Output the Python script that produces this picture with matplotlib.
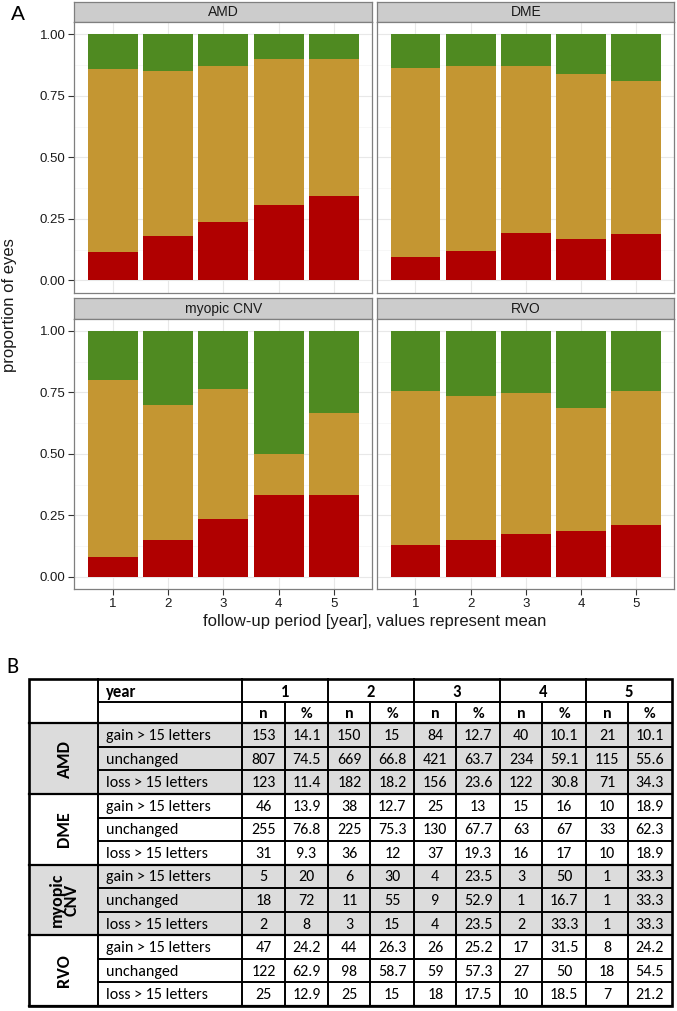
import matplotlib
matplotlib.use("Agg")
import matplotlib.pyplot as plt
import numpy as np
from matplotlib import font_manager
from matplotlib.patches import Rectangle

# ---------------- data ----------------
diseases = ["AMD", "DME", "myopic CNV", "RVO"]
disease_labels = ["AMD", "DME", "myopic\nCNV", "RVO"]
years = [1, 2, 3, 4, 5]
categories = ["gain > 15 letters", "unchanged", "loss > 15 letters"]

# counts n (per year 1..5)
gain_n = {
    "AMD": [153, 150, 84, 40, 21],
    "DME": [46, 38, 25, 15, 10],
    "myopic CNV": [5, 6, 4, 3, 1],
    "RVO": [47, 44, 26, 17, 8],
}
unchanged_n = {
    "AMD": [807, 669, 421, 234, 115],
    "DME": [255, 225, 130, 63, 33],
    "myopic CNV": [18, 11, 9, 1, 1],
    "RVO": [122, 98, 59, 27, 18],
}
loss_n = {
    "AMD": [123, 182, 156, 122, 71],
    "DME": [31, 36, 37, 16, 10],
    "myopic CNV": [2, 3, 4, 2, 1],
    "RVO": [25, 25, 18, 10, 7],
}
# percentages as printed in the table
gain_pct = {
    "AMD": [14.1, 15, 12.7, 10.1, 10.1],
    "DME": [13.9, 12.7, 13, 16, 18.9],
    "myopic CNV": [20, 30, 23.5, 50, 33.3],
    "RVO": [24.2, 26.3, 25.2, 31.5, 24.2],
}
unchanged_pct = {
    "AMD": [74.5, 66.8, 63.7, 59.1, 55.6],
    "DME": [76.8, 75.3, 67.7, 67, 62.3],
    "myopic CNV": [72, 55, 52.9, 16.7, 33.3],
    "RVO": [62.9, 58.7, 57.3, 50, 54.5],
}
loss_pct = {
    "AMD": [11.4, 18.2, 23.6, 30.8, 34.3],
    "DME": [9.3, 12, 19.3, 17, 18.9],
    "myopic CNV": [8, 15, 23.5, 33.3, 33.3],
    "RVO": [12.9, 15, 17.5, 18.5, 21.2],
}

y_ticks = [0.0, 0.25, 0.5, 0.75, 1.0]
y_tick_labels = ["0.00", "0.25", "0.50", "0.75", "1.00"]

# ---------------- style ----------------
GREEN = "#4F8A21"
GOLD = "#C49632"
RED = "#B00000"
STRIP_BG = "#CCCCCC"
BORDER = "#7F7F7F"

plt.rcParams["font.family"] = ["Liberation Sans", "DejaVu Sans"]


def has_font(name):
    try:
        font_manager.findfont(name, fallback_to_default=False)
        return True
    except Exception:
        return False


TFONT = "Carlito" if has_font("Carlito") else "Lato"
TF = [TFONT, "DejaVu Sans"]

W, H = 677, 1011
fig = plt.figure(figsize=(W / 100, H / 100), dpi=100)


def rect(x0, y0, x1, y1):
    return [x0 / W, 1 - y1 / H, (x1 - x0) / W, (y1 - y0) / H]


# table axes (pixel coordinates) drawn first, transparent
tax = fig.add_axes([0, 0, 1, 1])
tax.set_xlim(0, W)
tax.set_ylim(H, 0)
tax.axis("off")

# ---------------- chart ----------------
col_x = [(74.4, 372.2), (377.4, 674.4)]
row_y = [(2.0, 22.0, 292.7), (298.3, 318.7, 589.0)]

for i, d in enumerate(diseases):
    r, c = divmod(i, 2)
    x0, x1 = col_x[c]
    ys, ym, yb = row_y[r]

    sax = fig.add_axes(rect(x0, ys, x1, ym))
    sax.set_facecolor(STRIP_BG)
    sax.set_xticks([])
    sax.set_yticks([])
    for s in sax.spines.values():
        s.set_color(BORDER)
        s.set_linewidth(0.9)
    sax.text(0.5, 0.48, d, ha="center", va="center", fontsize=10,
             color="#1A1A1A", transform=sax.transAxes)

    ax = fig.add_axes(rect(x0, ym, x1, yb))
    ax.set_facecolor("white")
    tot = np.array(gain_n[d]) + np.array(unchanged_n[d]) + np.array(loss_n[d])
    lp = np.array(loss_n[d]) / tot
    up = np.array(unchanged_n[d]) / tot
    gp = np.array(gain_n[d]) / tot
    ax.bar(years, lp, width=0.9, color=RED, zorder=3, linewidth=0)
    ax.bar(years, up, width=0.9, bottom=lp, color=GOLD, zorder=3, linewidth=0)
    ax.bar(years, gp, width=0.9, bottom=lp + up, color=GREEN, zorder=3, linewidth=0)

    ax.set_xlim(0.31, 5.69)
    ax.set_ylim(-0.05, 1.05)
    ax.set_xticks(years)
    ax.set_yticks(y_ticks)
    ax.set_yticks([0.125, 0.375, 0.625, 0.875], minor=True)
    ax.set_axisbelow(True)
    ax.grid(which="major", color="#E8E8E8", linewidth=0.8, zorder=0)
    ax.grid(which="minor", axis="y", color="#F6F6F6", linewidth=0.6, zorder=0)
    for s in ax.spines.values():
        s.set_color(BORDER)
        s.set_linewidth(0.9)
        s.set_zorder(4)
    ax.tick_params(which="major", length=4.5, width=0.8, color="#333333",
                   labelsize=9.5, labelcolor="#1A1A1A", pad=2)
    ax.tick_params(which="minor", length=0)
    if c == 0:
        ax.set_yticklabels(y_tick_labels)
    else:
        ax.set_yticklabels([])
        ax.tick_params(axis="y", length=0)
    if r == 1:
        ax.set_xticklabels([str(y) for y in years])
    else:
        ax.set_xticklabels([])
        ax.tick_params(axis="x", length=0)

fig.text(10 / W, 1 - 305.5 / H, "proportion of eyes", rotation=90,
         ha="center", va="center", fontsize=12, color="#1A1A1A")
fig.text(374.5 / W, 1 - 621.5 / H, "follow-up period [year], values represent mean",
         ha="center", va="center", fontsize=12, color="#1A1A1A")
fig.text(17.5 / W, 1 - 14 / H, "A", ha="center", va="center", fontsize=15)
fig.text(12 / W, 1 - 667 / H, "B", ha="center", va="center", fontsize=16,
         family=TF)

# ---------------- table ----------------
X_L = 29.3
X_LAB = 97.7
X_Y0 = 242.3
X_R = 671.7
col_w = (X_R - X_Y0) / 5
col_edges = [X_Y0 + k * col_w for k in range(6)]
splits = [e + 0.492 * col_w for e in col_edges[:5]]

Y_T = 679.3
Y_H1 = 702.3
Y_H2 = 723.3
Y_B = 1006.0
rh = (Y_B - Y_H2) / 12
row_edges = [Y_H2 + k * rh for k in range(13)]

# shading
for g in (0, 2):
    tax.add_patch(Rectangle((X_L, row_edges[3 * g]), X_R - X_L, 3 * rh,
                            facecolor="#DCDCDC", edgecolor="none", zorder=1))

LW_IN = 1.4
LW_OUT = 1.9
LC = "#000000"

# horizontal lines
tax.plot([X_LAB, X_R], [Y_H1, Y_H1], color=LC, lw=LW_IN, zorder=2)
for k in range(13):
    y = row_edges[k]
    if k % 3 == 0:
        tax.plot([X_L, X_R], [y, y], color=LC, lw=LW_IN + 0.2, zorder=2)
    else:
        tax.plot([X_LAB, X_R], [y, y], color=LC, lw=LW_IN, zorder=2)
# vertical lines
tax.plot([X_LAB, X_LAB], [Y_T, Y_B], color=LC, lw=LW_IN, zorder=2)
for e in col_edges[:5]:
    tax.plot([e, e], [Y_T, Y_B], color=LC, lw=LW_IN, zorder=2)
for s in splits:
    tax.plot([s, s], [Y_H1, Y_B], color=LC, lw=LW_IN, zorder=2)
# outer border
tax.add_patch(Rectangle((X_L, Y_T), X_R - X_L, Y_B - Y_T, facecolor="none",
                        edgecolor=LC, lw=LW_OUT, zorder=3))

FS = 11.5
# header
tax.text(X_LAB + 8, (Y_T + Y_H1) / 2 + 1, "year", ha="left", va="center",
         fontsize=12, fontweight="bold", family=TF, zorder=4)
for k, yv in enumerate(years):
    tax.text((col_edges[k] + col_edges[k + 1]) / 2, (Y_T + Y_H1) / 2 + 1, str(yv),
             ha="center", va="center", fontsize=12, fontweight="bold", family=TF, zorder=4)
    tax.text((col_edges[k] + splits[k]) / 2, (Y_H1 + Y_H2) / 2 + 1, "n",
             ha="center", va="center", fontsize=FS, fontweight="bold", family=TF, zorder=4)
    tax.text((splits[k] + col_edges[k + 1]) / 2, (Y_H1 + Y_H2) / 2 + 1, "%",
             ha="center", va="center", fontsize=FS, fontweight="bold", family=TF, zorder=4)


def fmt(v):
    return "{:g}".format(v)


for g, d in enumerate(diseases):
    yc_group = (row_edges[3 * g] + row_edges[3 * g + 3]) / 2
    tax.text((X_L + X_LAB) / 2 + 1, yc_group, disease_labels[g], rotation=90,
             ha="center", va="center", fontsize=13, fontweight="bold",
             family=TF, linespacing=0.9, zorder=4)
    n_rows = [gain_n[d], unchanged_n[d], loss_n[d]]
    p_rows = [gain_pct[d], unchanged_pct[d], loss_pct[d]]
    for j, cat in enumerate(categories):
        yc = (row_edges[3 * g + j] + row_edges[3 * g + j + 1]) / 2 + 1
        tax.text(X_LAB + 8, yc, cat, ha="left", va="center", fontsize=FS,
                 family=TF, zorder=4)
        for k in range(5):
            tax.text((col_edges[k] + splits[k]) / 2, yc, str(n_rows[j][k]),
                     ha="center", va="center", fontsize=FS, family=TF, zorder=4)
            tax.text((splits[k] + col_edges[k + 1]) / 2, yc, fmt(p_rows[j][k]),
                     ha="center", va="center", fontsize=FS, family=TF, zorder=4)

fig.savefig("out.png", dpi=100)
